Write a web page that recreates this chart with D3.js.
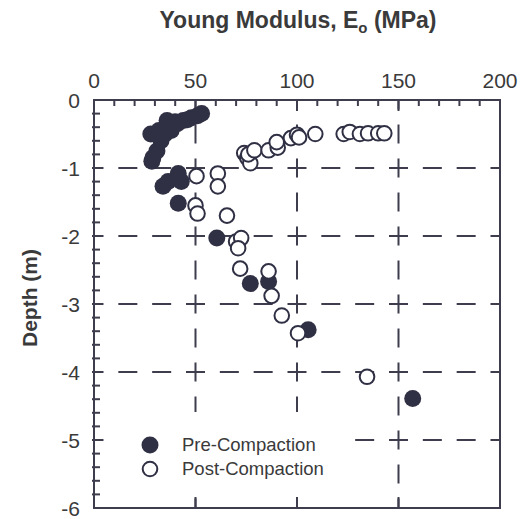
<!DOCTYPE html>
<html>
<head>
    <script src="https://cdn.jsdelivr.net/npm/d3@7"></script>
    <style>
        body{
            margin: 0;
            background: white;
        }
        text{
            font-family: "Liberation Sans", Arial, sans-serif;
            fill: #3a3a3a;
        }
        .grid{
            stroke: #3d3d4d;
            stroke-width: 2px;
            fill: none;
        }
    </style>
</head>
<body>
<div id="chart"></div>
<script>
    // pre-compaction points (modulus in MPa, depth in m)
    var preE = [28, 29, 28.5, 31, 33, 32, 35, 36, 38, 40, 41, 44, 46, 48, 51, 53,
                34, 36.5, 41.5, 43, 41.5, 60.5, 77, 86, 105.5, 157];
    var preD = [-0.5, -0.85, -0.9, -0.75, -0.6, -0.45, -0.5, -0.3, -0.45, -0.32, -0.35, -0.3, -0.29, -0.26, -0.23, -0.2,
                -1.27, -1.2, -1.08, -1.2, -1.52, -2.03, -2.7, -2.67, -3.38, -4.39];
    // post-compaction points
    var postE = [74, 75.5, 77, 76, 79, 86, 90.5, 90, 97, 100, 101, 109, 123, 126, 131, 135, 140, 143,
                 50.5, 61, 61, 50, 51, 65.5, 70, 72.5, 71, 72, 86, 87.5, 92.5, 100.5, 134.5];
    var postD = [-0.78, -0.85, -0.93, -0.8, -0.74, -0.74, -0.7, -0.62, -0.56, -0.51, -0.55, -0.5, -0.5, -0.47, -0.5, -0.49, -0.49, -0.49,
                 -1.12, -1.08, -1.27, -1.55, -1.67, -1.7, -2.08, -2.03, -2.18, -2.48, -2.52, -2.88, -3.17, -3.43, -4.07];
    // axis ticks
    var xTicks = [0, 50, 100, 150, 200];
    var yTicks = [0, -1, -2, -3, -4, -5, -6];
    var legendNames = ["Pre-Compaction", "Post-Compaction"];

    var width = 523, height = 519;
    var markColor = "#303045";

    var svg = d3.select("#chart").append("svg")
        .attr("width", width)
        .attr("height", height);

    // scales, axis box goes from (94,100) to (500,508)
    var x = d3.scaleLinear().domain([0, 200]).range([94, 500]);
    var y = d3.scaleLinear().domain([0, -6]).range([100, 508]);

    var pre = preE.map(function (e, i) { return {e: e, d: preD[i]}; });
    var post = postE.map(function (e, i) { return {e: e, d: postD[i]}; });

    // dashed grid, dashes centred on the crossings
    var hPeriod = (x(50) - x(0)) / 3, vPeriod = (y(-1) - y(0)) / 2;
    svg.append("g").selectAll("line")
        .data(yTicks.slice(1, -1))
        .enter().append("line")
        .attr("class", "grid")
        .attr("x1", x(0)).attr("x2", x(200))
        .attr("y1", function (d) { return y(d); })
        .attr("y2", function (d) { return y(d); })
        .attr("stroke-dasharray", "19," + (hPeriod - 19))
        .attr("stroke-dashoffset", 9.5);
    svg.append("g").selectAll("line")
        .data(xTicks.slice(1, -1))
        .enter().append("line")
        .attr("class", "grid")
        .attr("y1", y(0)).attr("y2", y(-6))
        .attr("x1", function (d) { return x(d); })
        .attr("x2", function (d) { return x(d); })
        .attr("stroke-dasharray", "19," + (vPeriod - 19))
        .attr("stroke-dashoffset", 9.5);

    // legend background hides the grid behind it
    svg.append("rect")
        .attr("x", 112).attr("y", 412)
        .attr("width", 230).attr("height", 85)
        .attr("fill", "white");

    // ticks: minor on top and left, major on top and bottom
    var ticks = svg.append("g").attr("stroke", "#3d3d4d").attr("stroke-width", 2);
    ticks.selectAll(".tx")
        .data(d3.range(10, 200, 10))
        .enter().append("line")
        .attr("x1", function (d) { return x(d); })
        .attr("x2", function (d) { return x(d); })
        .attr("y1", y(0))
        .attr("y2", function (d) { return y(0) + (d % 50 == 0 ? 11 : 6); });
    ticks.selectAll(".bx")
        .data([50, 100, 150])
        .enter().append("line")
        .attr("x1", function (d) { return x(d); })
        .attr("x2", function (d) { return x(d); })
        .attr("y1", y(-6))
        .attr("y2", y(-6) - 11);
    ticks.selectAll(".ty")
        .data(d3.range(1, 30).map(function (i) { return -i * 0.2; }))
        .enter().append("line")
        .attr("x1", x(0) - 2)
        .attr("x2", x(0) + 6)
        .attr("y1", function (d) { return y(d); })
        .attr("y2", function (d) { return y(d); });

    // frame
    svg.append("rect")
        .attr("x", x(0)).attr("y", y(0))
        .attr("width", x(200) - x(0)).attr("height", y(-6) - y(0))
        .attr("fill", "none")
        .attr("stroke", "#3d3d4d")
        .attr("stroke-width", 2);

    // tick labels
    svg.append("g").selectAll("text")
        .data(xTicks)
        .enter().append("text")
        .attr("x", function (d) { return x(d); })
        .attr("y", 88)
        .attr("text-anchor", "middle")
        .style("font-size", "21px")
        .text(function (d) { return d; });
    svg.append("g").selectAll("text")
        .data(yTicks)
        .enter().append("text")
        .attr("x", 80)
        .attr("y", function (d) { return y(d) + 8; })
        .attr("text-anchor", "end")
        .style("font-size", "21px")
        .text(function (d) { return d; });

    // titles
    var title = svg.append("text")
        .attr("x", 298).attr("y", 28)
        .attr("text-anchor", "middle")
        .style("font-size", "23px")
        .style("font-weight", "bold");
    title.append("tspan").text("Young Modulus, E");
    title.append("tspan").attr("dy", 5).style("font-size", "15px").text("o");
    title.append("tspan").attr("dy", -5).text(" (MPa)");

    svg.append("text")
        .attr("transform", "translate(37,298) rotate(-90)")
        .attr("text-anchor", "middle")
        .style("font-size", "21px")
        .style("font-weight", "bold")
        .text("Depth (m)");

    // points
    svg.append("g").selectAll("circle")
        .data(pre)
        .enter().append("circle")
        .attr("cx", function (d) { return x(d.e); })
        .attr("cy", function (d) { return y(d.d); })
        .attr("r", 8.5)
        .attr("fill", markColor);
    svg.append("g").selectAll("circle")
        .data(post)
        .enter().append("circle")
        .attr("cx", function (d) { return x(d.e); })
        .attr("cy", function (d) { return y(d.d); })
        .attr("r", 7.3)
        .attr("fill", "white")
        .attr("stroke", markColor)
        .attr("stroke-width", 2);

    // legend
    var legend = svg.append("g").selectAll("g")
        .data(legendNames)
        .enter().append("g")
        .attr("transform", function (d, i) { return "translate(150," + (445 + i * 24) + ")"; });
    legend.append("circle")
        .attr("r", function (d, i) { return i == 0 ? 8.5 : 7.3; })
        .attr("fill", function (d, i) { return i == 0 ? markColor : "white"; })
        .attr("stroke", markColor)
        .attr("stroke-width", function (d, i) { return i == 0 ? 0 : 2; });
    legend.append("text")
        .attr("x", 32).attr("y", 6)
        .style("font-size", "18.5px")
        .text(function (d) { return d; });
</script>
</body>
</html>
